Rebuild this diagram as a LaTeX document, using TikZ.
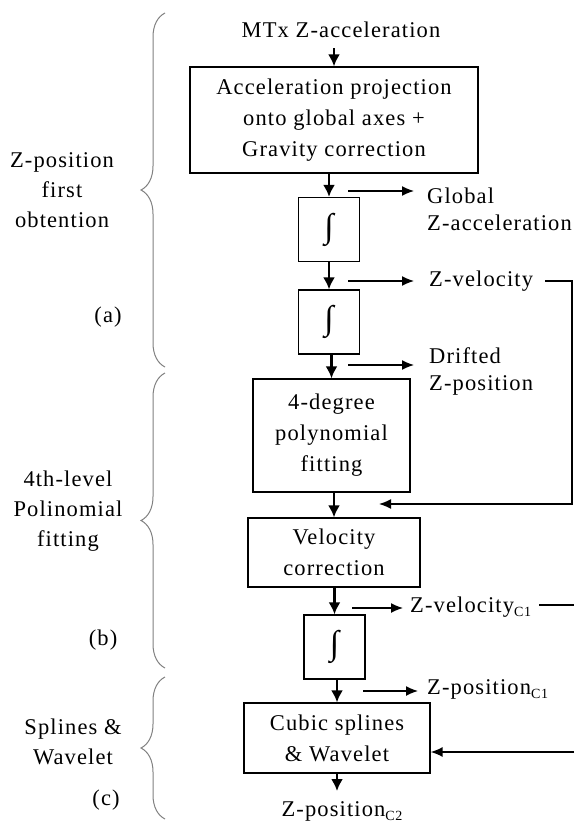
\documentclass[tikz,border=0pt]{standalone}
\usepackage{fontspec}
\setmainfont{Liberation Serif}[LetterSpace=5]
\usetikzlibrary{positioning, arrows.meta, decorations.pathreplacing}
\newcommand{\lowidx}[1]{\raisebox{-4pt}{\fontsize{14}{14}\selectfont #1}}

\begin{document}
\begin{tikzpicture}[x=1pt, y=-1pt,
    block/.style={draw, line width=1.3pt, align=center, inner sep=0pt, font=\fontsize{22.5}{31}\selectfont},
    intbox/.style={block, minimum width=61pt, minimum height=64pt, font=\fontsize{34}{34}\selectfont},
    lefttext/.style={align=center, inner sep=0pt, font=\fontsize{22.5}{30}\selectfont},
    outtext/.style={align=left, inner sep=0pt, font=\fontsize{22.5}{27}\selectfont},
    flow/.style={-{Latex[length=12pt, width=12pt]}, line width=2.2pt},
    tap/.style={-{Latex[length=12pt, width=10pt]}, line width=1.4pt},
    phase/.style={decorate, decoration={brace, amplitude=24pt}, draw=gray, line width=1pt}
]
    \useasboundingbox (0,0) rectangle (574,822);

    % processing chain (top to bottom)
    \node[lefttext] (src) at (341,30) {MTx Z-acceleration};
    \node[block, minimum width=288pt, minimum height=106pt] (proj) at (334,120)
        {Acceleration projection\\onto global axes +\\Gravity correction};
    \foreach \i/\x/\y in {1/329/229.5, 2/329/322, 3/334.5/647}
        \node[intbox] (int\i) at (\x,\y) {∫};
    \node[block, minimum width=157pt, minimum height=113pt] (poly) at (331.5,435.5)
        {4-degree\\polynomial\\fitting};
    \node[block, minimum width=172pt, minimum height=69pt] (velc) at (334,552.5)
        {Velocity\\correction};
    \node[block, minimum width=186pt, minimum height=70pt] (spl) at (337,738)
        {Cubic splines\\\& Wavelet};
    \node[lefttext, anchor=north] (zpc2) at (342,801) {Z-position\lowidx{C2}};

    % main arrows
    \draw[flow, shorten <=10pt] (src.south -| proj.north) -- (proj.north);
    \draw[flow] (proj.south -| int1.north) -- (int1.north);
    \draw[flow] (int1.south) -- (int2.north);
    \draw[flow] (int2.south -| poly.north) -- (poly.north);
    \draw[flow] (poly.south -| velc.north) -- (velc.north);
    \draw[flow] (velc.south -| int3.north) -- (int3.north);
    \draw[flow] (int3.south -| spl.north) -- (spl.north);
    \draw[flow, shorten >=10pt] (spl.south) -- (spl.south |- zpc2.north);

    % side outputs
    \node[outtext, anchor=west] (glob) at (427,209) {Global\\Z-acceleration};
    \node[outtext, anchor=west] (zvel) at (429,281) {Z-velocity};
    \node[outtext, anchor=west] (drift) at (429,371) {Drifted\\Z-position};
    \node[outtext, anchor=west] (zvc1) at (410,607) {Z-velocity\lowidx{C1}};
    \node[outtext, anchor=west] (zpc1) at (427,689) {Z-position\lowidx{C1}};

    \foreach \x/\y/\l/\g in {348/191/glob/13pt, 348/281/zvel/15pt, 348/365/drift/15pt, 352/608/zvc1/7pt, 363/691/zpc1/9pt}{
        \coordinate (t) at (\x,\y);
        \draw[tap, shorten >=\g] (t) -- (t -| \l.west);
    }

    % feedback lines
    \coordinate (vin) at (379,504);
    \coordinate (fbk) at (572,504);
    \draw[tap, shorten <=12pt] (zvel.east) -| (fbk) -- (vin);
    \coordinate (edgeA) at (574,605);
    \draw[line width=1.4pt, shorten <=8pt] (edgeA -| zvc1.east) -- (edgeA);
    \coordinate (edgeB) at (574,752);
    \draw[tap] (edgeB) -- (edgeB -| spl.east);

    % phases on the left
    \node[lefttext] (phA) at (62,190) {Z-position\\first\\obtention};
    \node[lefttext] (tagA) at (108,317) {(a)};
    \node[lefttext] (phB) at (68,511) {4th-level\\Polinomial\\fitting};
    \node[lefttext] (tagB) at (103,640) {(b)};
    \node[lefttext] (phC) at (73,742) {Splines \&\\Wavelet};
    \node[lefttext] (tagC) at (106,800) {(c)};

    \foreach \ya/\yb in {13/367, 373/668, 677/819}
        \draw[phase] (165,\yb) -- (165,\ya);

\end{tikzpicture}
\end{document}
